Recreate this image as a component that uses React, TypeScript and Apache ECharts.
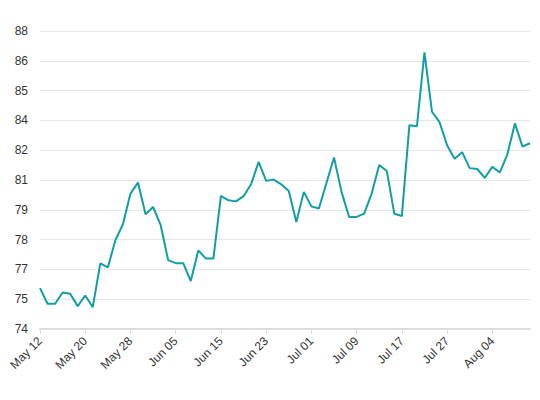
import React, { useEffect, useRef } from "react";
import * as echarts from "echarts";

const dates = [
  "May 12", "May 13", "May 14", "May 15", "May 16", "May 19",
  "May 20", "May 21", "May 22", "May 23", "May 26", "May 27",
  "May 28", "May 29", "May 30", "Jun 02", "Jun 03", "Jun 04",
  "Jun 05", "Jun 06", "Jun 09", "Jun 10", "Jun 12", "Jun 13",
  "Jun 15", "Jun 16", "Jun 17", "Jun 18", "Jun 19", "Jun 20",
  "Jun 23", "Jun 24", "Jun 25", "Jun 26", "Jun 27", "Jun 30",
  "Jul 01", "Jul 02", "Jul 03", "Jul 06", "Jul 07", "Jul 08",
  "Jul 09", "Jul 10", "Jul 11", "Jul 14", "Jul 15", "Jul 16",
  "Jul 17", "Jul 18", "Jul 21", "Jul 22", "Jul 24", "Jul 25",
  "Jul 27", "Jul 28", "Jul 29", "Jul 30", "Jul 31", "Aug 01",
  "Aug 04", "Aug 05", "Aug 06", "Aug 07", "Aug 08", "Aug 11",
];

const values = [
  75.79, 75.07, 75.07, 75.59, 75.53, 74.96,
  75.45, 74.91, 76.94, 76.75, 78.01, 78.75,
  80.17, 80.68, 79.21, 79.55, 78.72, 77.09,
  76.95, 76.95, 76.12, 77.54, 77.16, 77.16,
  80.06, 79.86, 79.81, 80.05, 80.6, 81.64,
  80.76, 80.82, 80.6, 80.29, 78.85, 80.25,
  79.58, 79.48, 80.66, 81.84, 80.25, 79.09,
  79.09, 79.24, 80.17, 81.49, 81.22, 79.24,
  79.13, 83.34, 83.29, 86.71, 83.96, 83.48,
  82.41, 81.78, 82.09, 81.35, 81.31, 80.9,
  81.41, 81.15, 81.99, 83.42, 82.35, 82.5,
];

const yMin = 73.9;
const yMax = 87.7;
const yStep = 1.38;

export default function App() {
  const ref = useRef<HTMLDivElement>(null);
  useEffect(() => {
    document.body.style.margin = "0";
    const chart = echarts.init(ref.current!, null, { renderer: "svg" });
    chart.setOption({
      animation: false,
      textStyle: { fontFamily: "Liberation Sans, Arial, sans-serif" },
      grid: { left: 40, right: 10, top: 31, bottom: 71, containLabel: false },
      xAxis: {
        type: "category",
        data: dates,
        boundaryGap: false,
        axisLine: { lineStyle: { color: "#dcdcdc", width: 2 } },
        axisTick: { show: true, interval: 5, length: 5, lineStyle: { color: "#dcdcdc" } },
        axisLabel: {
          interval: 5,
          rotate: 45,
          color: "#333",
          fontSize: 12,
          margin: 10,
        },
        splitLine: { show: false },
      },
      yAxis: {
        type: "value",
        min: yMin,
        max: yMax,
        interval: yStep,
        axisLine: { show: false },
        axisTick: { show: false },
        axisLabel: {
          color: "#333",
          fontSize: 12,
          margin: 12,
          formatter: (v: number) => String(Math.round(v)),
        },
        splitLine: { lineStyle: { color: "#e6e6e6", width: 1 } },
      },
      series: [
        {
          type: "line",
          data: values,
          symbol: "none",
          lineStyle: { color: "#119ea6", width: 2 },
          itemStyle: { color: "#119ea6" },
        },
      ],
    });
    return () => chart.dispose();
  }, []);
  return <div ref={ref} style={{ width: 540, height: 400 }} />;
}
